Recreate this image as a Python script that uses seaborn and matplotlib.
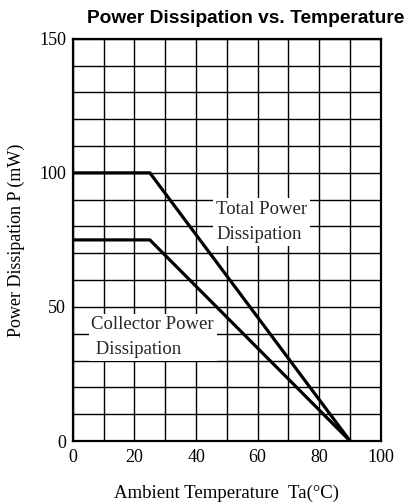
import matplotlib
matplotlib.use("Agg")
import matplotlib.pyplot as plt
import seaborn as sns
import pandas as pd

# Data
temp_total = [0, 25, 90]
power_total = [100, 100, 0]
temp_collector = [0, 25, 90]
power_collector = [75, 75, 0]
x_ticks = [0, 20, 40, 60, 80, 100]
y_ticks = [0, 50, 100, 150]

sns.set_theme(style="white")
plt.rcParams['font.family'] = ['Liberation Serif', 'DejaVu Serif']

df = pd.concat([
    pd.DataFrame({"Ta": temp_total, "P": power_total, "series": "Total"}),
    pd.DataFrame({"Ta": temp_collector, "P": power_collector, "series": "Collector"}),
])

fig = plt.figure(figsize=(4.14, 5.04), dpi=100)
ax = fig.add_axes([0.176, 0.125, 0.744, 0.798])

sns.lineplot(data=df, x="Ta", y="P", units="series", estimator=None,
             color="black", linewidth=2.3, ax=ax, zorder=3, sort=False)

ax.set_xlim(0, 100)
ax.set_ylim(0, 150)
ax.set_xticks(range(0, 101, 10), minor=True)
ax.set_yticks(range(0, 151, 10), minor=True)
ax.set_xticks(x_ticks)
ax.set_yticks(y_ticks)
ax.set_xticklabels([str(v) for v in x_ticks], fontsize=13)
ax.set_yticklabels([str(v) for v in y_ticks], fontsize=13)
ax.grid(True, which="both", color="black", linewidth=1.0)
ax.tick_params(axis="both", which="both", length=0, colors="black")
ax.tick_params(axis="x", pad=6)
ax.tick_params(axis="y", pad=5)
for s in ax.spines.values():
    s.set_color("black")
    s.set_linewidth(1.6)

ax.set_xlabel("Ambient Temperature  Ta(°C)", fontsize=13.5, labelpad=13, color="black")
ax.set_ylabel("Power Dissipation P (mW)", fontsize=13, labelpad=10, color="black")

ax.text(46.5, 89.5, "Total Power\nDissipation", fontsize=13.5, ha="left", va="top",
        linespacing=1.6, zorder=4,
        bbox=dict(facecolor="white", edgecolor="none", pad=2))
ax.text(6, 46.5, "Collector Power\n Dissipation", fontsize=13.5, ha="left", va="top",
        linespacing=1.6, zorder=4,
        bbox=dict(facecolor="white", edgecolor="none", pad=2))

fig.text(0.594, 0.964, "Power Dissipation vs. Temperature", fontsize=13.8,
         fontweight="bold", family=["Liberation Sans", "DejaVu Sans"],
         ha="center", va="center", color="black")

fig.savefig("out.png", dpi=100)
